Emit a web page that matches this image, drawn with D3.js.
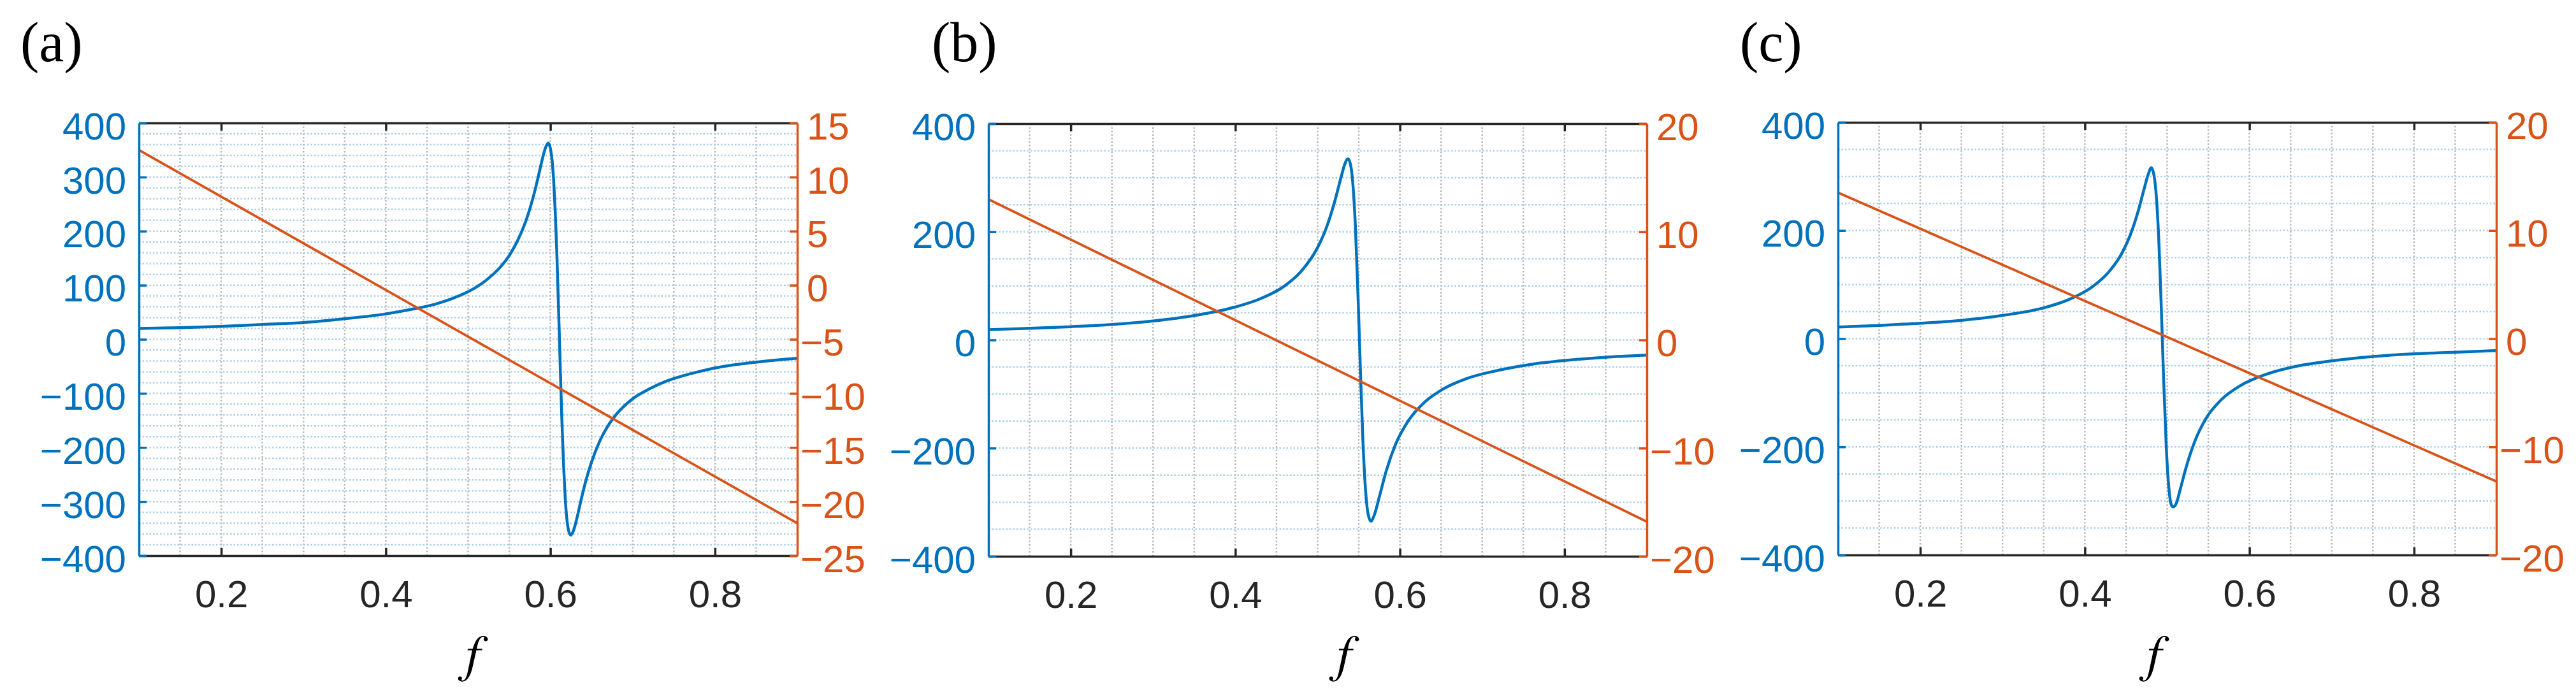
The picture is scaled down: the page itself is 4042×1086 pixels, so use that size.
<!DOCTYPE html>
<html><head><meta charset="utf-8">
<script src="https://cdn.jsdelivr.net/npm/d3@7"></script>
<style>html,body{margin:0;padding:0;background:#fff;} svg{display:block}</style>
</head><body>
<svg id="chart" width="4042" height="1086"></svg>
<script>
// ---------- data ----------
const panelLabels = ["(a)", "(b)", "(c)"];
const xLabel = "f";
const xDomain = [0.1, 0.9];
const xTickValues = [0.2, 0.4, 0.6, 0.8];
const xTickLabels = ["0.2", "0.4", "0.6", "0.8"];
const xGridValues = [0.15, 0.2, 0.25, 0.3, 0.35, 0.4, 0.45, 0.5, 0.55, 0.6, 0.65, 0.7, 0.75, 0.8, 0.85];

const leftDomain = [-400, 400];
const leftTicksA = [-400, -300, -200, -100, 0, 100, 200, 300, 400];
const leftLabelsA = ["\u2212400", "\u2212300", "\u2212200", "\u2212100", "0", "100", "200", "300", "400"];
const leftGridA = [-380,-360,-340,-320,-300,-280,-260,-240,-220,-200,-180,-160,-140,-120,-100,-80,-60,-40,-20,0,20,40,60,80,100,120,140,160,180,200,220,240,260,280,300,320,340,360,380];
const leftTicksBC = [-400, -200, 0, 200, 400];
const leftLabelsBC = ["\u2212400", "\u2212200", "0", "200", "400"];
const leftGridBC = [-350, -300, -250, -200, -150, -100, -50, 0, 50, 100, 150, 200, 250, 300, 350];

const rightDomainA = [-25, 15];
const rightTicksA = [-25, -20, -15, -10, -5, 0, 5, 10, 15];
const rightLabelsA = ["\u221225", "\u221220", "\u221215", "\u221210", "\u22125", "0", "5", "10", "15"];
const rightDomainBC = [-20, 20];
const rightTicksBC = [-20, -10, 0, 10, 20];
const rightLabelsBC = ["\u221220", "\u221210", "0", "10", "20"];

// blue curves (left axis)
const fA = [0.10,0.15,0.20,0.25,0.30,0.35,0.40,0.43,0.46,0.48,0.50,0.52,0.54,0.55,0.56,0.57,0.575,0.58,0.585,0.59,0.594,0.5973,0.600,0.602,0.604,0.606,0.608,0.610,0.612,0.614,0.616,0.618,0.620,0.622,0.6247,0.628,0.632,0.637,0.643,0.65,0.66,0.67,0.68,0.70,0.72,0.74,0.76,0.78,0.80,0.84,0.90];
const blueA = [20,21.5,24,27.5,31,38,47,55,65,75,88,107,135,155,182,218,241,268,299,332,354,363,353,332,293,232,151,52,-52,-151,-232,-293,-332,-353,-362,-354,-332,-299,-262,-227,-188,-160,-139,-110,-92,-78,-68,-60,-53,-44,-35];

const fB = [0.10,0.15,0.20,0.25,0.30,0.35,0.40,0.43,0.46,0.48,0.50,0.51,0.52,0.528,0.533,0.5368,0.540,0.543,0.546,0.549,0.5508,0.5525,0.555,0.558,0.561,0.5647,0.569,0.575,0.583,0.595,0.61,0.63,0.65,0.68,0.72,0.76,0.80,0.85,0.90];
const blueB = [19,21.5,24.5,28.5,35,45,61,76,100,127,171,205,252,298,325,335,324,285,206,85,0,-80,-185,-273,-319,-335,-323,-290,-244,-192,-150,-115,-93,-72,-56,-45,-38,-32,-28];

const fC = [0.10,0.15,0.20,0.25,0.30,0.35,0.38,0.41,0.43,0.445,0.455,0.465,0.472,0.477,0.4808,0.484,0.487,0.490,0.4925,0.4941,0.496,0.499,0.502,0.505,0.5074,0.511,0.516,0.523,0.533,0.547,0.565,0.59,0.62,0.66,0.70,0.75,0.80,0.85,0.90];
const blueC = [21.4,24.5,28.5,34,43,57,72,97,125,158,191,237,277,304,316,302,260,176,74,0,-88,-203,-275,-307,-311,-305,-278,-238,-192,-148,-114,-86,-66,-50,-41,-33,-28,-25,-22];

// red lines (right axis)
const redF = [0.1, 0.9];
const redA = [12.5, -22.0];
const redB = [13.0, -16.8];
const redC = [13.5, -13.2];

// ---------- drawing ----------
const BLUE = "#0072BD", RED = "#D95319", DARK = "#262626";
const SANS = "'Liberation Sans', Arial, Helvetica, sans-serif";
const SERIF = "'Liberation Serif', 'Times New Roman', Times, serif";
const svg = d3.select("#chart");

const panels = [
  {label: panelLabels[0], lx: 32, fx: 8, left: 218, right: 1251, top: 193, bottom: 872,
   f: fA, v: blueA, rv: redA, lT: leftTicksA, lL: leftLabelsA, lG: leftGridA,
   rD: rightDomainA, rT: rightTicksA, rL: rightLabelsA},
  {label: panelLabels[1], lx: 1462, fx: 42, left: 1551, right: 2584, top: 194, bottom: 873,
   f: fB, v: blueB, rv: redB, lT: leftTicksBC, lL: leftLabelsBC, lG: leftGridBC,
   rD: rightDomainBC, rT: rightTicksBC, rL: rightLabelsBC},
  {label: panelLabels[2], lx: 2730, fx: -20, left: 2884, right: 3917, top: 192, bottom: 871,
   f: fC, v: blueC, rv: redC, lT: leftTicksBC, lL: leftLabelsBC, lG: leftGridBC,
   rD: rightDomainBC, rT: rightTicksBC, rL: rightLabelsBC}
];

function styleAxis(sel, color, width) {
  sel.attr("font-family", SANS).attr("font-size", 60);
  sel.select(".domain").attr("stroke", color).attr("stroke-width", width);
  sel.selectAll(".tick line").attr("stroke", color).attr("stroke-width", width);
  sel.selectAll(".tick text").attr("fill", color);
}

panels.forEach(p => {
  const x = d3.scaleLinear().domain(xDomain).range([p.left, p.right]);
  const yL = d3.scaleLinear().domain(leftDomain).range([p.bottom, p.top]);
  const yR = d3.scaleLinear().domain(p.rD).range([p.bottom, p.top]);
  const g = svg.append("g");

  // grid
  g.append("g").selectAll("line").data(xGridValues).join("line")
    .attr("x1", d => x(d)).attr("x2", d => x(d))
    .attr("y1", p.top).attr("y2", p.bottom)
    .attr("stroke", "#b8b8b8").attr("stroke-width", 2.5)
    .attr("stroke-dasharray", "2.5,3");
  g.append("g").selectAll("line").data(p.lG).join("line")
    .attr("x1", p.left).attr("x2", p.right)
    .attr("y1", d => yL(d)).attr("y2", d => yL(d))
    .attr("stroke", "#a8cfec").attr("stroke-width", 2.5)
    .attr("stroke-dasharray", "2.5,3");

  // curves
  const blueLine = d3.line().x(d => x(d[0])).y(d => yL(d[1])).curve(d3.curveMonotoneX);
  g.append("path").datum(d3.zip(p.f, p.v)).attr("d", blueLine)
    .attr("fill", "none").attr("stroke", BLUE).attr("stroke-width", 4.5)
    .attr("stroke-linejoin", "round");
  const redLine = d3.line().x(d => x(d[0])).y(d => yR(d[1]));
  g.append("path").datum(d3.zip(redF, p.rv)).attr("d", redLine)
    .attr("fill", "none").attr("stroke", RED).attr("stroke-width", 3.8);

  // axes
  const topAx = g.append("g").attr("transform", `translate(0,${p.top})`)
    .call(d3.axisTop(x).tickValues(xTickValues).tickSizeInner(-12).tickSizeOuter(0).tickFormat(""));
  styleAxis(topAx, DARK, 3.5);
  const botAx = g.append("g").attr("transform", `translate(0,${p.bottom})`)
    .call(d3.axisBottom(x).tickValues(xTickValues).tickSizeInner(-12).tickSizeOuter(0).tickPadding(38)
      .tickFormat((d, i) => xTickLabels[i]));
  styleAxis(botAx, DARK, 3.5);

  const leftAx = g.append("g").attr("transform", `translate(${p.left},0)`)
    .call(d3.axisLeft(yL).tickValues(p.lT).tickSizeInner(-12).tickSizeOuter(0).tickPadding(20)
      .tickFormat((d, i) => p.lL[i]));
  styleAxis(leftAx, BLUE, 3.5);
  leftAx.selectAll(".tick text").attr("dy", "0.42em");

  const rightAx = g.append("g").attr("transform", `translate(${p.right},0)`)
    .call(d3.axisRight(yR).tickValues(p.rT).tickSizeInner(-12).tickSizeOuter(0).tickPadding(15)
      .tickFormat((d, i) => p.rL[i]));
  styleAxis(rightAx, RED, 3.5);
  rightAx.selectAll(".tick text").attr("dy", "0.42em")
    .attr("x", (d, i) => p.rL[i].startsWith("\u2212") ? 5 : 15);

  // labels
  g.append("text").attr("x", (p.left + p.right) / 2 + p.fx).attr("y", 1053)
    .attr("text-anchor", "middle")
    .attr("style", "font-family:'FreeSerif','Liberation Serif',serif;font-style:italic;font-size:82px")
    .attr("fill", "#000").text(xLabel);
  g.append("text").attr("x", p.lx).attr("y", 96)
    .attr("font-family", SERIF).attr("font-size", 88).attr("fill", "#000").text(p.label);
});
</script>
</body></html>
